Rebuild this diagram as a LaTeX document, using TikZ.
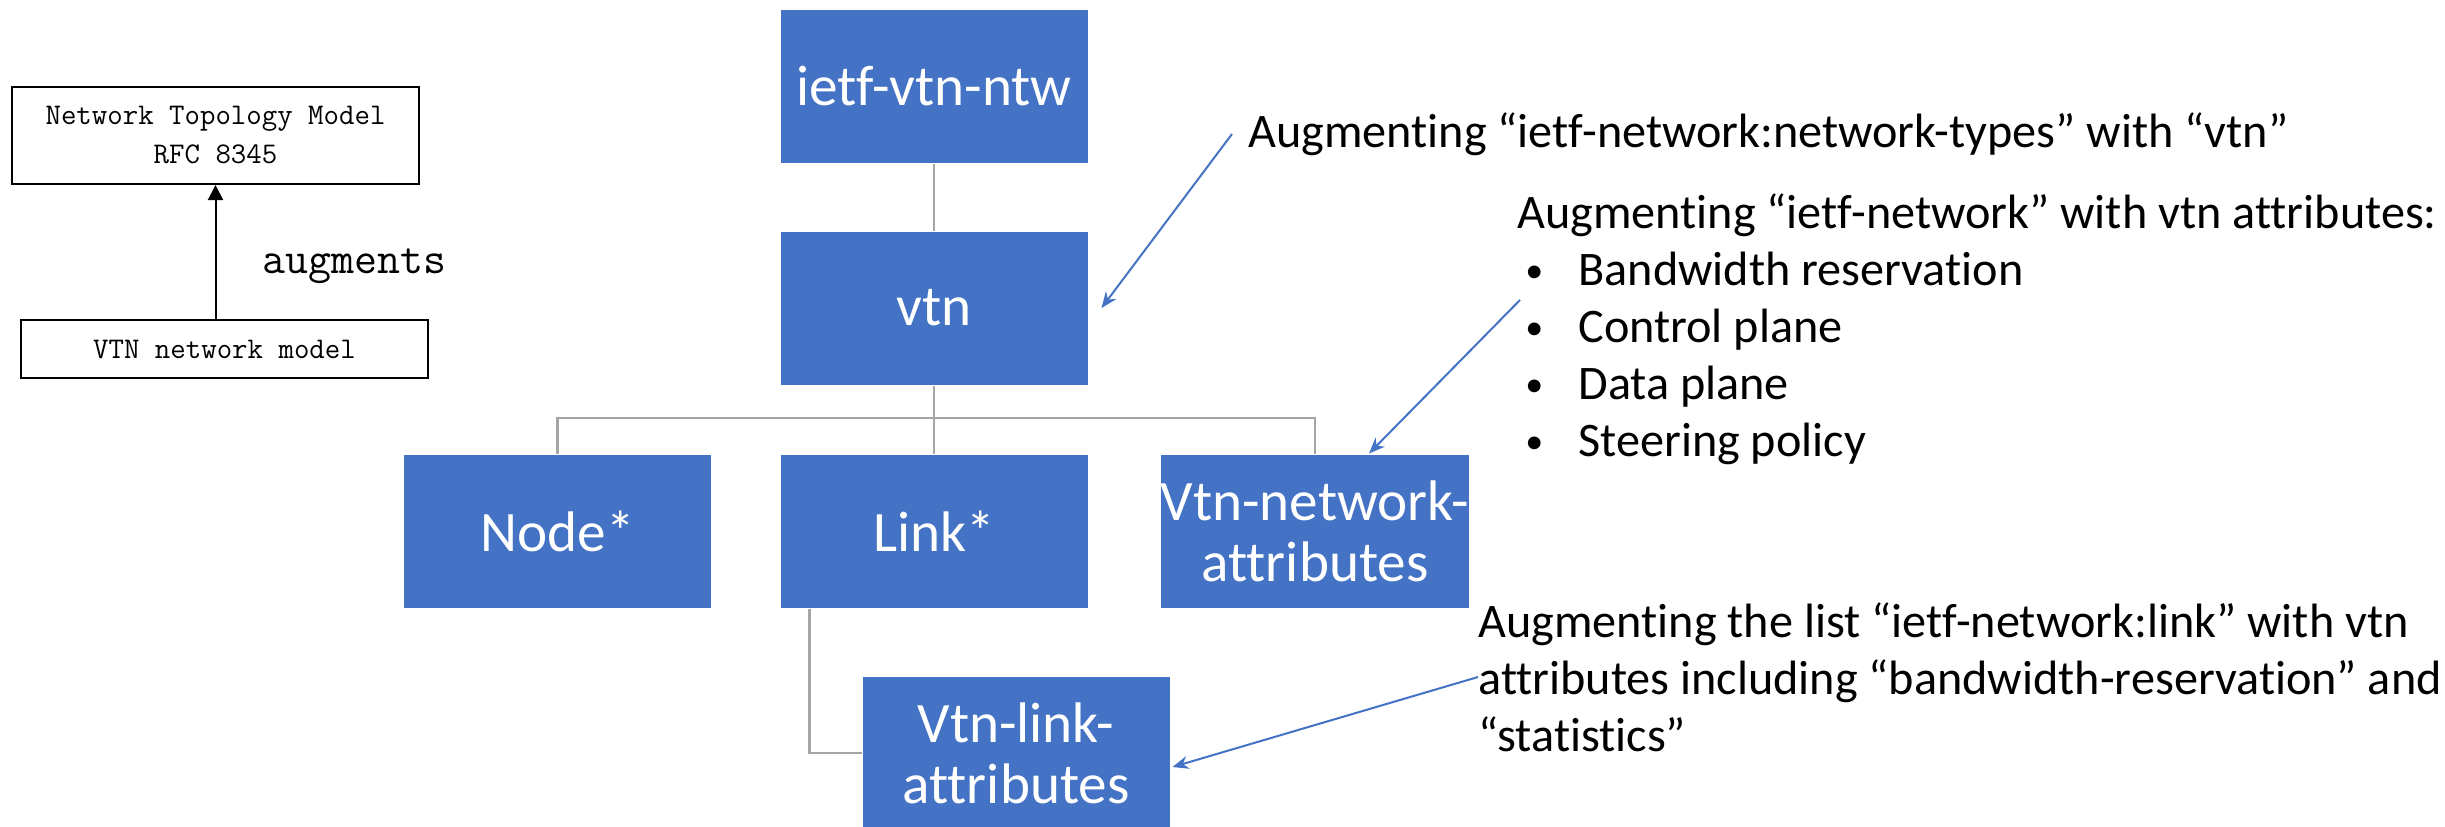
\documentclass[tikz,border=0pt]{standalone}
\usepackage{fontspec}
\setmainfont{Carlito}[Ligatures=NoCommon]
\usetikzlibrary{arrows.meta,calc}

\definecolor{boxblue}{HTML}{4472C4}
\definecolor{treegray}{HTML}{A5A5A5}

% small list bullet followed by the item text
\newcommand{\itembullet}{\hspace*{4pt}\makebox[26.5pt][l]{\raisebox{1.5pt}{\fontsize{18}{18}\selectfont •}}}

\begin{document}
\begin{tikzpicture}[x=0.5pt,y=-0.5pt,
  blk/.style={fill=boxblue, draw=white, line width=0.5pt, text=white,
    minimum width=154pt, minimum height=77pt, inner sep=0pt, align=center,
    font=\fontsize{28.6}{30.5}\selectfont},
  tree/.style={draw=treegray, line width=1.4pt},
  note/.style={anchor=west, inner sep=0pt, align=left,
    font=\fontsize{24.1}{28.5}\selectfont},
  pointer/.style={draw=boxblue, line width=1pt, -{Stealth[length=8pt,width=6.5pt]}},
  plainbox/.style={draw=black, line width=1pt, inner sep=0pt, align=center,
    font=\ttfamily\fontsize{15}{19.5}\selectfont},
]
\useasboundingbox (0,0) rectangle (2445,826);

% ---- legend: model relationship ----
\node[plainbox, minimum width=203.5pt, minimum height=48.5pt] (ntm) at (215.5,135.5)
  {Network Topology Model\\RFC 8345};
\node[plainbox, minimum width=203.5pt, minimum height=29pt] (vtnm) at (224.5,349)
  {VTN network model};
\draw[line width=1pt, -{Triangle[length=7.5pt,width=7.5pt]}] (vtnm.north -| ntm.south) -- (ntm.south);
\node[anchor=base west, inner sep=0pt, font=\ttfamily\fontsize{22.3}{24}\selectfont] (aug) at (262,273) {augments};

% ---- module tree ----
\node[blk] (root) at (934,86) {ietf-vtn-ntw};
\node[blk] (vtn) at (934,308) {vtn};
\node[blk] (nodes) at (557.5,531) {Node*};
\node[blk] (links) at (934,531) {Link*};
\node[blk] (vna) at (1315,531) {Vtn-network-\\attributes};
\node[blk] (vla) at (1016,753) {Vtn-link-\\attributes};

\coordinate (bar) at (934,418);
\draw[tree] (root.south) -- (vtn.north);
\draw[tree] (vtn.south) -- (vtn.south |- bar) -| (nodes.north);
\draw[tree] (vtn.south |- bar) -- (links.north);
\draw[tree] (vtn.south |- bar) -| (vna.north);
\draw[tree] ([xshift=15pt]links.south west) |- (vla.west);

% ---- annotations ----
\node[note] (n1) at (1248,134) {Augmenting “ietf-network:network-types” with “vtn”};
\node[note] (n2) at (1517,329) {Augmenting “ietf-network” with vtn attributes:\\
  \itembullet Bandwidth reservation\\
  \itembullet Control plane\\
  \itembullet Data plane\\
  \itembullet Steering policy};
\node[note] (n3) at (1478,677) {Augmenting the list “ietf-network:link” with vtn\\
  attributes including “bandwidth-reservation” and\\
  “statistics”};

\coordinate (s1) at ([xshift=-8pt]n1.west);
\coordinate (s2) at (1520,300);
\draw[pointer] (s1) -- ([xshift=6.5pt]vtn.east);
\draw[pointer] (s2) -- ([xshift=27pt]vna.north);
\draw[pointer] (n3.west) -- ([shift={(1pt,-7pt)}]vla.east);
\end{tikzpicture}
\end{document}
